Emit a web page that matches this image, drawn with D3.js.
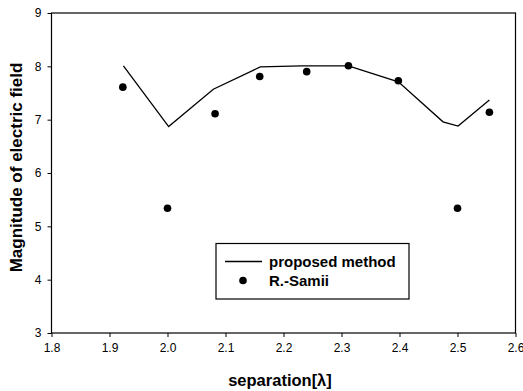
<!DOCTYPE html>
<html>
<head>
<meta charset="utf-8">
<script src="https://cdn.jsdelivr.net/npm/d3@7"></script>
<style>
  body { margin: 0; background: #fff; }
  text { font-family: Arial, "Liberation Sans", sans-serif; }
</style>
</head>
<body>
<div id="chart"></div>
<script>
// proposed method (line)
var lineX = [1.924, 2.002, 2.079, 2.16, 2.231, 2.312, 2.398, 2.475, 2.501, 2.555]
var lineY = [8.01, 6.87, 7.57, 7.99, 8.01, 8.01, 7.71, 6.96, 6.88, 7.37]
// R.-Samii (dots)
var dotX = [1.923, 2.0, 2.082, 2.159, 2.24, 2.312, 2.398, 2.5, 2.555]
var dotY = [7.61, 5.34, 7.11, 7.81, 7.9, 8.01, 7.73, 5.34, 7.14]
var xTicks = [1.8, 1.9, 2.0, 2.1, 2.2, 2.3, 2.4, 2.5, 2.6]
var yTicks = [3, 4, 5, 6, 7, 8, 9]
var legendLabels = ["proposed method", "R.-Samii"]

var width = 523, height = 391
var margin = {top: 13, left: 51.5, bottom: 58, right: 7.5}

var svg = d3.select("#chart").append("svg")
  .attr("width", width)
  .attr("height", height)

var x = d3.scaleLinear().domain([1.8, 2.6]).range([margin.left, width - margin.right])
var y = d3.scaleLinear().domain([3, 9]).range([height - margin.bottom, margin.top])

// frame
svg.append("rect")
  .attr("x", x(1.8)).attr("y", y(9))
  .attr("width", x(2.6) - x(1.8)).attr("height", y(3) - y(9))
  .attr("fill", "none").attr("stroke", "#000").attr("stroke-width", 1.2)

var xAxis = svg.append("g")
  .attr("transform", "translate(0," + y(3) + ")")
  .call(d3.axisBottom(x).tickValues(xTicks).tickFormat(d3.format(".1f")).tickSize(4).tickPadding(6))
var yAxis = svg.append("g")
  .attr("transform", "translate(" + x(1.8) + ",0)")
  .call(d3.axisLeft(y).tickValues(yTicks).tickFormat(d3.format("d")).tickSize(4).tickPadding(6))

;[xAxis, yAxis].forEach(function(a){
  a.select(".domain").remove()
  a.selectAll("line").attr("stroke", "#000")
  a.selectAll("text").attr("font-size", "12px").attr("fill", "#000")
    .style("font-family", "Arial, 'Liberation Sans', sans-serif")
})

// line
var lineData = lineX.map(function(v, i){ return [v, lineY[i]] })
svg.append("path")
  .datum(lineData)
  .attr("fill", "none")
  .attr("stroke", "#000")
  .attr("stroke-width", 1.3)
  .attr("d", d3.line().x(function(d){ return x(d[0]) }).y(function(d){ return y(d[1]) }))

// dots
svg.append("g").selectAll("circle")
  .data(dotX.map(function(v, i){ return [v, dotY[i]] }))
  .enter().append("circle")
    .attr("cx", function(d){ return x(d[0]) })
    .attr("cy", function(d){ return y(d[1]) })
    .attr("r", 3.8)
    .attr("fill", "#000")

// legend
var lg = svg.append("g")
lg.append("rect")
  .attr("x", 216).attr("y", 243.5).attr("width", 193).attr("height", 55.5)
  .attr("fill", "#fff").attr("stroke", "#000").attr("stroke-width", 1.2)
lg.append("line")
  .attr("x1", 225).attr("x2", 262).attr("y1", 261.5).attr("y2", 261.5)
  .attr("stroke", "#000").attr("stroke-width", 1.3)
lg.append("circle")
  .attr("cx", 243).attr("cy", 280.5).attr("r", 3.8).attr("fill", "#000")
lg.selectAll("text.lbl")
  .data(legendLabels)
  .enter().append("text")
    .attr("class", "lbl")
    .attr("x", 269)
    .attr("y", function(d, i){ return 266.5 + i * 19.5 })
    .attr("font-size", "15px")
    .attr("font-weight", "bold")
    .text(function(d){ return d })

// axis titles
svg.append("text")
  .attr("x", 280).attr("y", 386)
  .attr("text-anchor", "middle")
  .attr("font-size", "16.5px").attr("font-weight", "bold")
  .text("separation[λ]")
svg.append("text")
  .attr("transform", "translate(22,167.5) rotate(-90)")
  .attr("text-anchor", "middle")
  .attr("font-size", "17px").attr("font-weight", "bold")
  .text("Magnitude of electric field")
</script>
</body>
</html>
